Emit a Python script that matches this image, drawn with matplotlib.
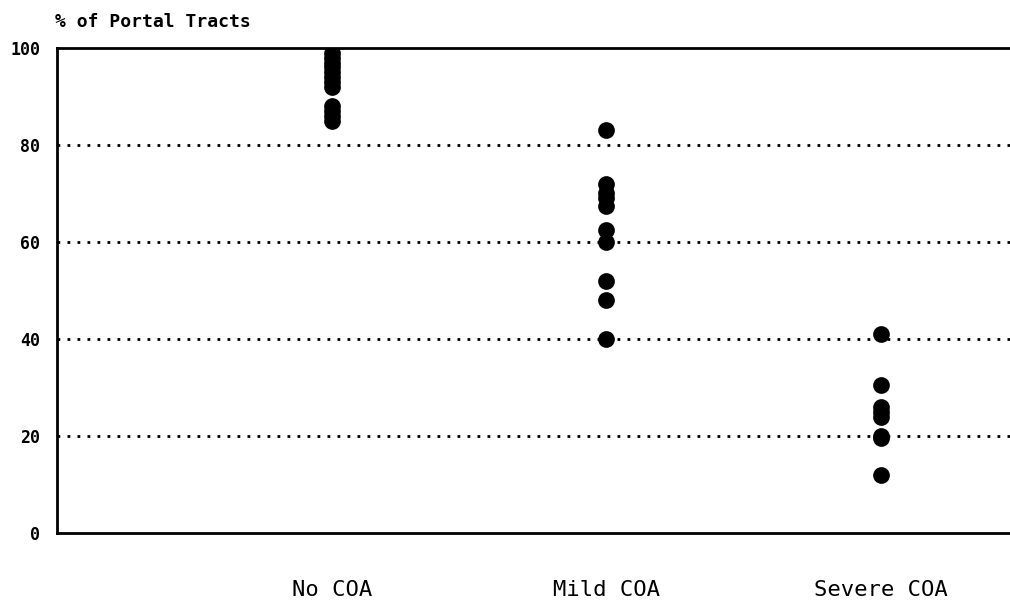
import matplotlib
matplotlib.use("Agg")
import matplotlib.pyplot as plt

categories = ["No COA", "Mild COA", "Severe COA"]
no_coa = [99, 98, 97, 96, 95, 94, 93, 92, 88, 87, 86, 85]
mild_coa = [83, 72, 70, 69, 67.5, 62.5, 60, 52, 48, 40]
severe_coa = [41, 30.5, 26, 25, 24, 20, 19.5, 12]
yticks = [0, 20, 40, 60, 80, 100]
ylabel = "% of Portal Tracts"

plt.rcParams['font.family'] = ['DejaVu Sans Mono']

fig = plt.figure(figsize=(10.1, 6.13), dpi=100)
ax = fig.add_axes([57/1010, (613-533)/613, 1 - 57/1010, (533-48)/613])

groups = [no_coa, mild_coa, severe_coa]
for i, vals in enumerate(groups, start=1):
    ax.scatter([i]*len(vals), vals, s=145, color='black', zorder=3, linewidths=0)

ax.set_xlim(0.0, 3.47)
ax.set_ylim(0, 100)
ax.set_xticks([1, 2, 3])
ax.set_xticklabels(categories, fontsize=16)
ax.set_yticks(yticks)
ax.set_yticklabels([str(v) for v in yticks], fontsize=12, fontweight='bold')
ax.tick_params(axis='both', length=0)
ax.tick_params(axis='x', pad=34)
ax.tick_params(axis='y', pad=12)

for v in yticks[1:-1]:
    ax.axhline(v, color='black', linestyle=(0, (1, 2.6)), linewidth=2, zorder=1)

for s in ['left', 'bottom', 'top']:
    ax.spines[s].set_linewidth(2)
ax.spines['right'].set_visible(False)

fig.text(55/1010, 1 - 22/613, ylabel, fontsize=13, fontweight='bold', va='center', ha='left')

fig.savefig("out.png", dpi=100)
